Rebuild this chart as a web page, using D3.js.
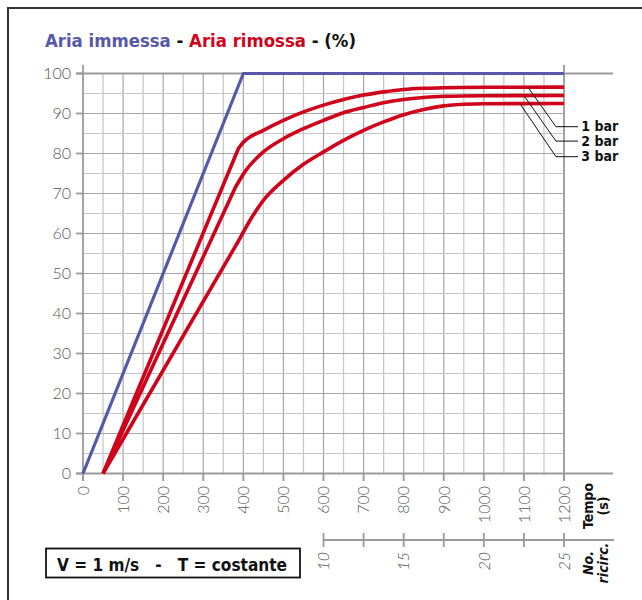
<!DOCTYPE html>
<html>
<head>
<meta charset="utf-8">
<script src="https://cdn.jsdelivr.net/npm/d3@7"></script>
<style>
  body { margin: 0; background: #fff; }
  .light { font-family: Lato, "Open Sans", sans-serif; font-weight: 300; fill: #555; }
  .cond { font-family: "Liberation Sans Narrow", "DejaVu Sans Condensed", sans-serif; }
</style>
</head>
<body>
<div id="chart"></div>
<script>
// tick labels
var tempoTicks = [0, 100, 200, 300, 400, 500, 600, 700, 800, 900, 1000, 1100, 1200];
var percentTicks = [0, 10, 20, 30, 40, 50, 60, 70, 80, 90, 100];
var ricircTicks = [10, 12.5, 15, 17.5, 20, 22.5, 25];
var ricircLabels = [10, 15, 20, 25];

// series: [tempo (s), %]
var immessa = [[0, 0], [400, 100], [1200, 100]];
var rimossa1bar = [[50, 0], [388, 81.3], [400, 82.8], [450, 85.8], [500, 88.3], [550, 90.4], [600, 92.1], [650, 93.5],
    [700, 94.6], [750, 95.4], [800, 96.0], [850, 96.3], [900, 96.45], [1000, 96.55], [1200, 96.6]];
var rimossa2bar = [[50, 0], [380, 71.5], [405, 75.6], [450, 80.4], [500, 83.7], [550, 86.2], [600, 88.3], [650, 90.2],
    [700, 91.5], [750, 92.7], [800, 93.5], [850, 94.0], [900, 94.3], [1000, 94.45], [1200, 94.5]];
var rimossa3bar = [[50, 0], [390, 58.5], [415, 63], [450, 68.3], [500, 73.3], [550, 77.3], [600, 80.4], [650, 83.3],
    [700, 85.8], [750, 87.9], [800, 89.7], [850, 91.0], [900, 91.9], [950, 92.3], [1000, 92.45], [1200, 92.5]];

// leader labels
var barLabels = ["1 bar", "2 bar", "3 bar"];
var leaderStartT = [1110, 1100, 1090];
var leaderEndV = [86.7, 83.1, 79.2];

var blue = "#5659a9", red = "#d0021b";

var svg = d3.select("#chart").append("svg")
    .attr("width", 642)
    .attr("height", 600);

var x = d3.scaleLinear().domain([0, 1200]).range([83, 564]);
var y = d3.scaleLinear().domain([0, 100]).range([473.5, 73.5]);
var xr = d3.scaleLinear().domain([10, 25]).range([x(600), x(1200)]);

// outer frame
svg.append("path")
    .attr("d", "M8,600V8H642")
    .attr("fill", "none")
    .attr("stroke", "#333")
    .attr("stroke-width", 2);

// title
var title = svg.append("text")
    .attr("class", "cond")
    .attr("x", 45)
    .attr("y", 47)
    .attr("textLength", 311)
    .attr("lengthAdjust", "spacingAndGlyphs")
    .style("font-size", "18px")
    .style("font-weight", "bold");
title.append("tspan").attr("fill", blue).text("Aria immessa");
title.append("tspan").attr("fill", "#111").text("  -  ");
title.append("tspan").attr("fill", red).text("Aria rimossa");
title.append("tspan").attr("fill", "#111").text("  -  (%)");

// grid
var grid = svg.append("g");
grid.selectAll(".vg")
    .data(d3.range(50, 1200, 50))
    .enter().append("line")
    .attr("x1", function(d) { return x(d); })
    .attr("x2", function(d) { return x(d); })
    .attr("y1", y(100))
    .attr("y2", y(0))
    .attr("stroke", function(d) { return d % 100 === 0 ? "#a6a6a6" : "#c6c6c6"; })
    .attr("stroke-width", 1.2);
grid.selectAll(".hg")
    .data(d3.range(5, 100, 5))
    .enter().append("line")
    .attr("x1", x(0))
    .attr("x2", x(1200))
    .attr("y1", function(d) { return y(d); })
    .attr("y2", function(d) { return y(d); })
    .attr("stroke", function(d) { return d % 10 === 0 ? "#a6a6a6" : "#c6c6c6"; })
    .attr("stroke-width", 1.2);

// axis frame lines
var axisColor = "#9a9a9a";
[0, 1200].forEach(function(t) {
    svg.append("line")
        .attr("x1", x(t)).attr("x2", x(t))
        .attr("y1", 65).attr("y2", 481)
        .attr("stroke", axisColor).attr("stroke-width", 1.8);
});
[0, 100].forEach(function(v) {
    svg.append("line")
        .attr("x1", 76).attr("x2", 613)
        .attr("y1", y(v)).attr("y2", y(v))
        .attr("stroke", axisColor).attr("stroke-width", 1.8);
});

// x ticks + labels
svg.selectAll(".xt")
    .data(tempoTicks)
    .enter().append("line")
    .attr("x1", function(d) { return x(d); })
    .attr("x2", function(d) { return x(d); })
    .attr("y1", y(0))
    .attr("y2", 481)
    .attr("stroke", axisColor)
    .attr("stroke-width", 1.8);
svg.selectAll(".xl")
    .data(tempoTicks)
    .enter().append("text")
    .attr("class", "light")
    .attr("transform", function(d) { return "translate(" + x(d) + ",486) rotate(-90)"; })
    .attr("dy", "0.36em")
    .attr("text-anchor", "end")
    .style("font-size", "16px")
    .text(function(d) { return d; });

// y ticks + labels
svg.selectAll(".yt")
    .data(percentTicks)
    .enter().append("line")
    .attr("x1", 76)
    .attr("x2", x(0))
    .attr("y1", function(d) { return y(d); })
    .attr("y2", function(d) { return y(d); })
    .attr("stroke", axisColor)
    .attr("stroke-width", 1.8);
svg.selectAll(".yl")
    .data(percentTicks)
    .enter().append("text")
    .attr("class", "light")
    .attr("x", 71)
    .attr("y", function(d) { return y(d); })
    .attr("dy", "0.36em")
    .attr("text-anchor", "end")
    .style("font-size", "16px")
    .text(function(d) { return d; });

// axis titles
var tempoT = svg.append("text")
    .attr("transform", "translate(593,506) rotate(-90)")
    .attr("text-anchor", "middle")
    .attr("class", "cond")
    .style("font-size", "14px")
    .style("font-weight", "bold")
    .attr("fill", "#111");
tempoT.append("tspan").attr("x", 0).attr("dy", 0).text("Tempo");
tempoT.append("tspan").attr("x", 0).attr("dy", "1.05em").text("(s)");

// secondary axis (ricircoli)
svg.append("line")
    .attr("x1", xr(10)).attr("x2", 614)
    .attr("y1", 540).attr("y2", 540)
    .attr("stroke", axisColor).attr("stroke-width", 1.8);
svg.selectAll(".rt")
    .data(ricircTicks)
    .enter().append("line")
    .attr("x1", function(d) { return xr(d); })
    .attr("x2", function(d) { return xr(d); })
    .attr("y1", 533)
    .attr("y2", 547)
    .attr("stroke", axisColor)
    .attr("stroke-width", 1.8);
svg.selectAll(".rl")
    .data(ricircLabels)
    .enter().append("text")
    .attr("class", "light")
    .attr("transform", function(d) { return "translate(" + xr(d) + ",552) rotate(-90)"; })
    .attr("dy", "0.36em")
    .attr("text-anchor", "end")
    .style("font-size", "16px")
    .style("font-style", "italic")
    .text(function(d) { return d; });

var ricT = svg.append("text")
    .attr("transform", "translate(593,563) rotate(-90)")
    .attr("text-anchor", "middle")
    .attr("class", "cond")
    .style("font-size", "14px")
    .style("font-weight", "bold")
    .style("font-style", "italic")
    .attr("fill", "#111");
ricT.append("tspan").attr("x", 0).attr("dy", 0).text("No.");
ricT.append("tspan").attr("x", 0).attr("dy", "1.05em").text("ricirc.");

// lines: straight rise, then smooth bend
var straight = d3.line()
    .x(function(d) { return x(d[0]); })
    .y(function(d) { return y(d[1]); });
var smooth = d3.line()
    .x(function(d) { return x(d[0]); })
    .y(function(d) { return y(d[1]); })
    .curve(d3.curveMonotoneX);

var rimosse = [rimossa1bar, rimossa2bar, rimossa3bar];
svg.selectAll(".red")
    .data(rimosse)
    .enter().append("path")
    .attr("fill", "none")
    .attr("stroke", red)
    .attr("stroke-width", 3.6)
    .attr("stroke-linejoin", "round")
    .attr("d", function(d) { return straight(d.slice(0, 2)) + smooth(d.slice(1)).replace(/^M/, "L"); });

svg.append("path")
    .datum(immessa)
    .attr("fill", "none")
    .attr("stroke", blue)
    .attr("stroke-width", 3.2)
    .attr("d", straight);

// leader lines to labels
function valueAt(series, t) {
    var i = d3.bisector(function(d) { return d[0]; }).left(series, t);
    var a = series[i - 1], b = series[i];
    return a[1] + (b[1] - a[1]) * (t - a[0]) / (b[0] - a[0]);
}
barLabels.forEach(function(lbl, i) {
    var t0 = leaderStartT[i];
    var v0 = valueAt(rimosse[i], t0);
    svg.append("path")
        .attr("d", "M" + x(t0) + "," + y(v0) + "L" + x(1180) + "," + y(leaderEndV[i]) + "H" + x(1235))
        .attr("fill", "none")
        .attr("stroke", "#111")
        .attr("stroke-width", 1);
    svg.append("text")
        .attr("class", "cond")
        .attr("x", x(1243))
        .attr("y", y(leaderEndV[i]))
        .attr("dy", "0.34em")
        .style("font-size", "14px")
        .style("font-weight", "bold")
        .attr("fill", "#111")
        .text(lbl);
});

// condition box
svg.append("rect")
    .attr("x", 46).attr("y", 548.5)
    .attr("width", 254).attr("height", 29)
    .attr("fill", "#fff")
    .attr("stroke", "#111")
    .attr("stroke-width", 1.8);
svg.append("text")
    .attr("class", "cond")
    .attr("x", 57)
    .attr("y", 571)
    .attr("textLength", 230)
    .attr("lengthAdjust", "spacingAndGlyphs")
    .style("white-space", "pre")
    .style("font-size", "18px")
    .style("font-weight", "bold")
    .attr("fill", "#111")
    .text("V = 1 m/s   -   T = costante");
</script>
</body>
</html>
